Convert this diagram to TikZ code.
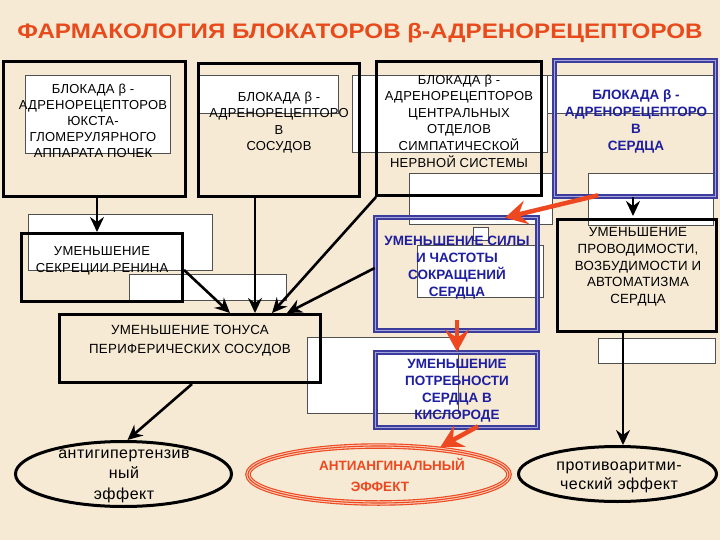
\documentclass[tikz,border=0pt]{standalone}
\usepackage{fontspec}
\usepackage{graphicx}
\setmainfont{Liberation Sans}
\newfontfamily\boxf[LetterSpace=2]{Liberation Sans}
\newfontfamily\ellf[LetterSpace=3]{Liberation Sans}
\usetikzlibrary{arrows.meta,shapes.geometric}
\definecolor{bgc}{HTML}{F6EAD4}
\definecolor{titlec}{HTML}{E84A1C}
\definecolor{bluet}{HTML}{1E1EA0}
\definecolor{bdark}{HTML}{3C3C9C}
\definecolor{blight}{HTML}{A4A4DC}
\definecolor{redc}{HTML}{EE4820}
\definecolor{redl}{HTML}{F8CDB8}
\definecolor{rectb}{HTML}{505050}
\tikzset{
  whiterect/.style={fill=white, draw=rectb, line width=0.6pt},
  blkbox/.style={draw=black, line width=3pt, inner sep=0pt, rectangle},
  bluebox/.style={draw=bdark, line width=1.6pt, double=blight, double distance=1.6pt, inner sep=0pt, rectangle},
  blkell/.style={ellipse, draw=black, line width=3pt, inner sep=0pt},
  hidell/.style={ellipse, inner sep=0pt},
  blkarr/.style={draw=black, line width=2.6pt, -{Stealth[length=15pt,width=14pt,inset=5pt]}},
  redarr/.style={draw=redc, line width=4.5pt, -{Stealth[length=22pt,width=24pt,inset=8pt]}},
  txt/.style={align=center, inner sep=0pt, text=black, font=\boxf\fontsize{13}{16.5}\selectfont},
  btxt/.style={align=center, inner sep=0pt, text=bluet, font=\bfseries\fontsize{13.5}{16.8}\selectfont},
  etxt/.style={align=center, inner sep=0pt, text=black, font=\ellf\fontsize{16}{20}\selectfont},
  rtxt/.style={inner sep=0pt, text=redc, font=\bfseries\fontsize{13.5}{16}\selectfont},
  titletxt/.style={inner sep=0pt, text=titlec, font=\bfseries\fontsize{21}{21}\selectfont}
}
\begin{document}
\begin{tikzpicture}[x=1pt,y=-1pt]
\fill[bgc] (0,0) rectangle (720,540);
\useasboundingbox (0,0) rectangle (720,540);

% title
\node[titletxt] (T) at (360,33) {\resizebox{685pt}{\height}{ФАРМАКОЛОГИЯ БЛОКАТОРОВ β-АДРЕНОРЕЦЕПТОРОВ}};

% white rectangles
\draw[whiterect] (25,75) rectangle (170,153);
\draw[whiterect] (197,75) rectangle (338,113);
\draw[whiterect] (352,75) rectangle (547,152);
\draw[whiterect] (547,75) rectangle (715,113);
\draw[whiterect] (409,173) rectangle (552,224);
\draw[whiterect] (588,173) rectangle (713,225);
\draw[whiterect] (28,214) rectangle (212,270);
\draw[whiterect] (129,274) rectangle (286,300);
\draw[whiterect] (307,337) rectangle (458,413);
\draw[whiterect] (417,245) rectangle (543,297);
\draw[whiterect] (473,227) rectangle (488,240);
\draw[whiterect] (598,338) rectangle (715,363);

% boxes
\node[blkbox, minimum width=182pt, minimum height=135pt] (A) at (94.5,129) {};
\node[blkbox, minimum width=161pt, minimum height=133pt] (B) at (279,130) {};
\node[blkbox, minimum width=165pt, minimum height=134pt] (C) at (459,128.5) {};
\node[bluebox, minimum width=161pt, minimum height=136pt] (D) at (635,128.5) {};
\node[blkbox, minimum width=161pt, minimum height=68pt] (F) at (102,267.5) {};
\node[blkbox, minimum width=261pt, minimum height=68pt] (G) at (190,348.5) {};
\node[bluebox, minimum width=162pt, minimum height=113pt] (E1) at (456.5,274) {};
\node[blkbox, minimum width=159pt, minimum height=112pt] (H) at (637,275.5) {};
\node[bluebox, minimum width=162pt, minimum height=75pt] (E2) at (456.5,390) {};

% ellipses
\node[blkell, minimum width=216pt, minimum height=65pt] (L1) at (123.5,474) {};
\node[hidell, minimum width=267pt, minimum height=63pt] (L2) at (378.5,474.5) {};
\draw[redc, line width=5.5pt] (L2.center) ellipse [x radius=130.5pt, y radius=28.5pt];
\draw[redl, line width=3.2pt] (L2.center) ellipse [x radius=130.5pt, y radius=28.5pt];
\draw[redc, line width=1.1pt] (L2.center) ellipse [x radius=130.5pt, y radius=28.5pt];
\node[blkell, minimum width=198pt, minimum height=55pt] (L3) at (617.5,474) {};

% black arrows
\draw[blkarr] ([xshift=2.5pt]A.south) -- ([xshift=-5pt]F.north);
\draw[blkarr] ([xshift=-24pt]B.south) -- ([xshift=65pt]G.north);
\draw[blkarr] ([xshift=1pt]C.south west) -- ([xshift=82pt]G.north);
\draw[blkarr] ([yshift=6pt]E1.west) -- ([xshift=97pt]G.north);
\draw[blkarr] ([yshift=-2.5pt]F.east) -- ([xshift=40pt]G.north);
\draw[blkarr] ([xshift=2pt]G.south) -- ([xshift=4pt]L1.north);
\draw[blkarr] ([xshift=-2pt]D.south) -- ([xshift=-4pt,yshift=2pt]H.north);
\draw[blkarr] ([xshift=-14pt]H.south) -- ([xshift=5.5pt]L3.north);

% red arrows
\draw[redarr] ([xshift=-37pt,yshift=2pt]D.south) -- ([xshift=48.5pt,yshift=-1pt]E1.north);
\draw[redarr] ([xshift=0.5pt,yshift=11pt]E1.south) -- ([xshift=0.5pt]E2.north);
\draw[redarr] ([xshift=21.5pt,yshift=2pt]E2.south) -- ([xshift=62pt,yshift=-4pt]L2.north);

% texts
\node[txt, font=\boxf\fontsize{13}{16}\selectfont] (At) at (93,121) {БЛОКАДА β -\\АДРЕНОРЕЦЕПТОРОВ\\ЮКСТА-\\ГЛОМЕРУЛЯРНОГО\\АППАРАТА ПОЧЕК};
\node[txt, font=\boxf\fontsize{13}{16.3}\selectfont] (Bt) at (279,122.5) {БЛОКАДА β -\\АДРЕНОРЕЦЕПТОРО\\В\\СОСУДОВ};
\node[txt, font=\boxf\fontsize{13}{16.6}\selectfont] (Ct) at (459,121) {БЛОКАДА β -\\АДРЕНОРЕЦЕПТОРОВ\\ЦЕНТРАЛЬНЫХ\\ОТДЕЛОВ\\СИМПАТИЧЕСКОЙ\\НЕРВНОЙ СИСТЕМЫ};
\node[btxt, font=\bfseries\fontsize{13.5}{17}\selectfont] (Dt) at (636,121.5) {БЛОКАДА β -\\АДРЕНОРЕЦЕПТОРО\\В\\СЕРДЦА};
\node[txt, font=\boxf\fontsize{13}{17}\selectfont] (Ft) at (102,261) {УМЕНЬШЕНИЕ\\СЕКРЕЦИИ РЕНИНА};
\node[txt, font=\boxf\fontsize{13.3}{19}\selectfont] (Gt) at (190,341) {УМЕНЬШЕНИЕ ТОНУСА\\ПЕРИФЕРИЧЕСКИХ СОСУДОВ};
\node[btxt] (E1t) at (457,267.5) {УМЕНЬШЕНИЕ СИЛЫ\\И ЧАСТОТЫ\\СОКРАЩЕНИЙ\\СЕРДЦА};
\node[txt, font=\boxf\fontsize{13.3}{16.7}\selectfont] (Ht) at (638,267) {УМЕНЬШЕНИЕ\\ПРОВОДИМОСТИ,\\ВОЗБУДИМОСТИ И\\АВТОМАТИЗМА\\СЕРДЦА};
\node[btxt] (E2t) at (457,390.5) {УМЕНЬШЕНИЕ\\ПОТРЕБНОСТИ\\СЕРДЦА В\\КИСЛОРОДЕ};
\node[etxt, font=\ellf\fontsize{16}{20.5}\selectfont] (L1t) at (124,476) {антигипертензив\\ный\\эффект};
\node[rtxt] (L2a) at (392,464.5) {АНТИАНГИНАЛЬНЫЙ};
\node[rtxt] (L2b) at (380,486.5) {ЭФФЕКТ};
\node[etxt, font=\ellf\fontsize{16}{19}\selectfont] (L3t) at (619,477) {противоаритми-\\ческий эффект};
\end{tikzpicture}
\end{document}
